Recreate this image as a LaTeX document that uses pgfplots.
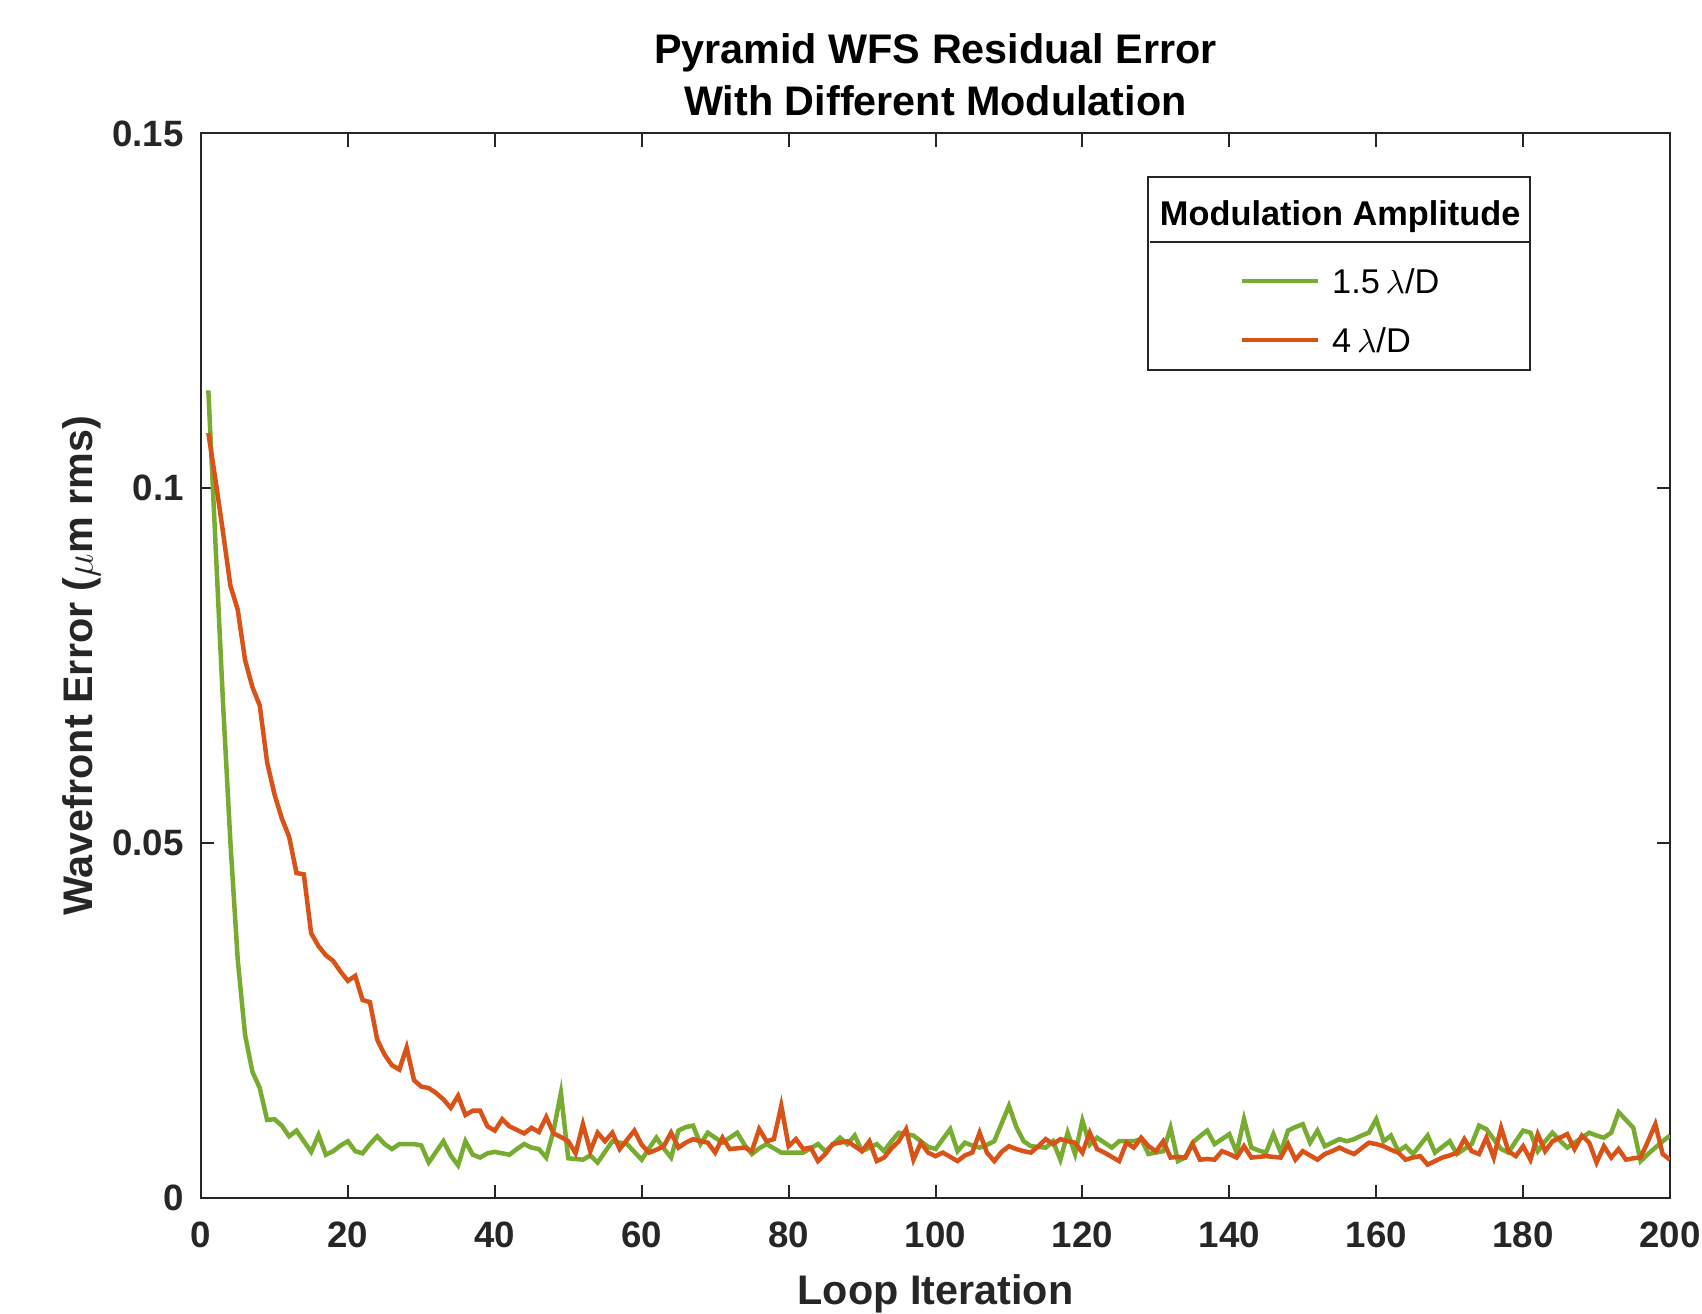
\documentclass[border=0pt]{standalone}
\usepackage{fontspec}
\setmainfont{Liberation Sans}
\usepackage{pgfplots}
\pgfplotsset{compat=1.18}
\usepackage{pgfplotstable}
\definecolor{mgreen}{HTML}{77AC30}
\definecolor{morange}{HTML}{D95319}
\definecolor{axgray}{HTML}{262626}

\pgfplotstableread{
x y
1 0.1138
2 0.0916
3 0.0697
4 0.0502
5 0.0336
6 0.0230
7 0.0178
8 0.0155
9 0.0110
10 0.0111
11 0.0102
12 0.0087
13 0.0095
14 0.0080
15 0.0065
16 0.0089
17 0.0061
18 0.0066
19 0.0074
20 0.0080
21 0.0066
22 0.0063
23 0.0076
24 0.0087
25 0.0076
26 0.0069
27 0.0076
28 0.0076
29 0.0076
30 0.0074
31 0.0050
32 0.0065
33 0.0080
34 0.0060
35 0.0046
36 0.0080
37 0.0061
38 0.0057
39 0.0063
40 0.0065
41 0.0063
42 0.0061
43 0.0069
44 0.0076
45 0.0071
46 0.0069
47 0.0057
48 0.0095
49 0.0148
50 0.0056
51 0.0055
52 0.0054
53 0.0060
54 0.0050
55 0.0065
56 0.0080
57 0.0078
58 0.0076
59 0.0065
60 0.0054
61 0.0070
62 0.0085
63 0.0070
64 0.0057
65 0.0095
66 0.0100
67 0.0102
68 0.0076
69 0.0092
70 0.0085
71 0.0078
72 0.0085
73 0.0092
74 0.0075
75 0.0062
76 0.0070
77 0.0076
78 0.0070
79 0.0064
80 0.0064
81 0.0064
82 0.0064
83 0.0070
84 0.0076
85 0.0066
86 0.0075
87 0.0085
88 0.0076
89 0.0088
90 0.0066
91 0.0071
92 0.0076
93 0.0066
94 0.0080
95 0.0092
96 0.0090
97 0.0088
98 0.0080
99 0.0072
100 0.0069
101 0.0083
102 0.0097
103 0.0066
104 0.0078
105 0.0074
106 0.0071
107 0.0075
108 0.0080
109 0.0105
110 0.0130
111 0.0100
112 0.0080
113 0.0073
114 0.0072
115 0.0071
116 0.0080
117 0.0054
118 0.0092
119 0.0062
120 0.0109
121 0.0075
122 0.0085
123 0.0078
124 0.0071
125 0.0080
126 0.0080
127 0.0080
128 0.0083
129 0.0062
130 0.0064
131 0.0066
132 0.0099
133 0.0052
134 0.0057
135 0.0078
136 0.0087
137 0.0095
138 0.0076
139 0.0083
140 0.0090
141 0.0064
142 0.0111
143 0.0071
144 0.0067
145 0.0064
146 0.0090
147 0.0064
148 0.0095
149 0.0100
150 0.0104
151 0.0078
152 0.0095
153 0.0073
154 0.0078
155 0.0083
156 0.0080
157 0.0083
158 0.0088
159 0.0092
160 0.0111
161 0.0080
162 0.0088
163 0.0066
164 0.0073
165 0.0062
166 0.0075
167 0.0088
168 0.0064
169 0.0072
170 0.0080
171 0.0062
172 0.0069
173 0.0076
174 0.0102
175 0.0097
176 0.0083
177 0.0069
178 0.0064
179 0.0080
180 0.0095
181 0.0092
182 0.0066
183 0.0080
184 0.0092
185 0.0081
186 0.0071
187 0.0078
188 0.0085
189 0.0092
190 0.0088
191 0.0085
192 0.0092
193 0.0121
194 0.0110
195 0.0099
196 0.0052
197 0.0062
198 0.0071
199 0.0080
200 0.0088
}\greendata

\pgfplotstableread{
x y
1 0.1078
2 0.1010
3 0.0938
4 0.0863
5 0.0829
6 0.0758
7 0.0720
8 0.0694
9 0.0614
10 0.0569
11 0.0535
12 0.0509
13 0.0458
14 0.0456
15 0.0373
16 0.0355
17 0.0342
18 0.0334
19 0.0319
20 0.0306
21 0.0313
22 0.0279
23 0.0276
24 0.0223
25 0.0202
26 0.0187
27 0.0181
28 0.0212
29 0.0166
30 0.0157
31 0.0155
32 0.0148
33 0.0139
34 0.0127
35 0.0144
36 0.0117
37 0.0123
38 0.0123
39 0.0101
40 0.0095
41 0.0111
42 0.0101
43 0.0096
44 0.0091
45 0.0099
46 0.0093
47 0.0114
48 0.0091
49 0.0086
50 0.0080
51 0.0063
52 0.0104
53 0.0066
54 0.0092
55 0.0080
56 0.0092
57 0.0069
58 0.0082
59 0.0095
60 0.0075
61 0.0064
62 0.0068
63 0.0073
64 0.0092
65 0.0071
66 0.0078
67 0.0083
68 0.0080
69 0.0078
70 0.0064
71 0.0085
72 0.0069
73 0.0070
74 0.0071
75 0.0066
76 0.0097
77 0.0080
78 0.0083
79 0.0130
80 0.0073
81 0.0083
82 0.0069
83 0.0071
84 0.0052
85 0.0062
86 0.0076
87 0.0078
88 0.0080
89 0.0073
90 0.0066
91 0.0080
92 0.0052
93 0.0057
94 0.0070
95 0.0080
96 0.0097
97 0.0054
98 0.0078
99 0.0064
100 0.0059
101 0.0064
102 0.0058
103 0.0052
104 0.0060
105 0.0064
106 0.0092
107 0.0064
108 0.0052
109 0.0065
110 0.0073
111 0.0069
112 0.0066
113 0.0064
114 0.0073
115 0.0083
116 0.0076
117 0.0083
118 0.0080
119 0.0078
120 0.0064
121 0.0092
122 0.0069
123 0.0064
124 0.0058
125 0.0052
126 0.0078
127 0.0071
128 0.0085
129 0.0073
130 0.0066
131 0.0080
132 0.0057
133 0.0058
134 0.0057
135 0.0076
136 0.0054
137 0.0055
138 0.0054
139 0.0066
140 0.0062
141 0.0057
142 0.0073
143 0.0057
144 0.0058
145 0.0059
146 0.0058
147 0.0057
148 0.0076
149 0.0054
150 0.0066
151 0.0060
152 0.0054
153 0.0062
154 0.0066
155 0.0071
156 0.0066
157 0.0062
158 0.0070
159 0.0078
160 0.0076
161 0.0073
162 0.0068
163 0.0064
164 0.0054
165 0.0057
166 0.0059
167 0.0047
168 0.0052
169 0.0057
170 0.0060
171 0.0064
172 0.0083
173 0.0066
174 0.0062
175 0.0085
176 0.0057
177 0.0099
178 0.0066
179 0.0059
180 0.0073
181 0.0054
182 0.0090
183 0.0066
184 0.0080
185 0.0085
186 0.0090
187 0.0069
188 0.0088
189 0.0078
190 0.0050
191 0.0073
192 0.0057
193 0.0069
194 0.0054
195 0.0056
196 0.0057
197 0.0080
198 0.0104
199 0.0062
200 0.0054
}\orangedata

\pgfplotsset{
  leggreen/.style={legend image code/.code={\path[draw=none,fill=none] (-25.2pt,-6.3pt) rectangle (22.8pt,11.4pt); \draw[mgreen, line width=1.3pt] (0pt,0pt) -- (22.8pt,0pt);}},
  legorange/.style={legend image code/.code={\path[draw=none,fill=none] (-25.2pt,-9pt) rectangle (22.8pt,11.4pt); \draw[morange, line width=1.3pt] (0pt,0pt) -- (22.8pt,0pt);}},
}

\begin{document}
\begin{tikzpicture}
\begin{axis}[
  scale only axis,
  width=440.7pt, height=319.35pt,
  xmin=0, xmax=200, ymin=0, ymax=0.15,
  xtick={0,20,...,200},
  ytick={0,0.05,0.1,0.15},
  yticklabels={0,0.05,0.1,0.15},
  /pgf/number format/assume math mode=true,
  tick align=inside,
  major tick length=4pt,
  axis line style={axgray, line width=0.6pt},
  every tick/.style={axgray, line width=0.6pt},
  tick label style={font=\fontsize{11}{13}\selectfont\bfseries, text=axgray, inner sep=0pt},
  xticklabel style={anchor=north, yshift=-7.1pt},
  yticklabel style={anchor=east, xshift=-5pt},
  title={Pyramid WFS Residual Error\\With Different Modulation},
  title style={at={(axis description cs:0.5,1)}, anchor=south, inner sep=0pt, yshift=-0.95pt, align=center, font=\fontsize{12.4}{15.6}\selectfont\bfseries, text=black},
  xlabel={Loop Iteration},
  xlabel style={at={(axis description cs:0.5,-0.1005)}, anchor=base, inner sep=0pt, font=\fontsize{12.4}{15}\selectfont\bfseries, text=axgray},
  ylabel={Wavefront Error ($\mu$m rms)},
  ylabel style={at={(axis description cs:-0.0738,0.5)}, anchor=base, inner sep=0pt, font=\fontsize{12.4}{15}\selectfont\bfseries, text=axgray},
  legend cell align=left,
  legend style={at={(axis description cs:0.644,0.960)}, anchor=north west, draw=axgray, line width=0.6pt, fill=white, inner xsep=3pt, inner ysep=0pt, row sep=0pt, nodes={inner sep=0pt, text depth=}, font=\fontsize{10.3}{12}\selectfont},
]
\addlegendimage{empty legend}
\addlegendentry{\hspace*{-51pt}\rlap{\color{axgray}\rule[-5.3pt]{114pt}{0.6pt}}\hspace*{3pt}\makebox[108pt][c]{\rule[-5.3pt]{0pt}{19.8pt}\bfseries Modulation Amplitude}}

\addplot[mgreen, line width=1.35pt, leggreen] table[x=x, y=y] {\greendata};
\addlegendentry{\makebox[60pt][l]{\rule[-2pt]{0pt}{11.4pt}\hspace*{3.6pt}1.5\,$\lambda$/D}}

\addplot[morange, line width=1.35pt, legorange] table[x=x, y=y] {\orangedata};
\addlegendentry{\makebox[60pt][l]{\rule[-2pt]{0pt}{11.4pt}\hspace*{3.6pt}4\,$\lambda$/D}}
\end{axis}
\pgfresetboundingbox
\useasboundingbox (-60.3pt,-34.5pt) rectangle (450.3pt,359.4pt);
\end{tikzpicture}
\end{document}
